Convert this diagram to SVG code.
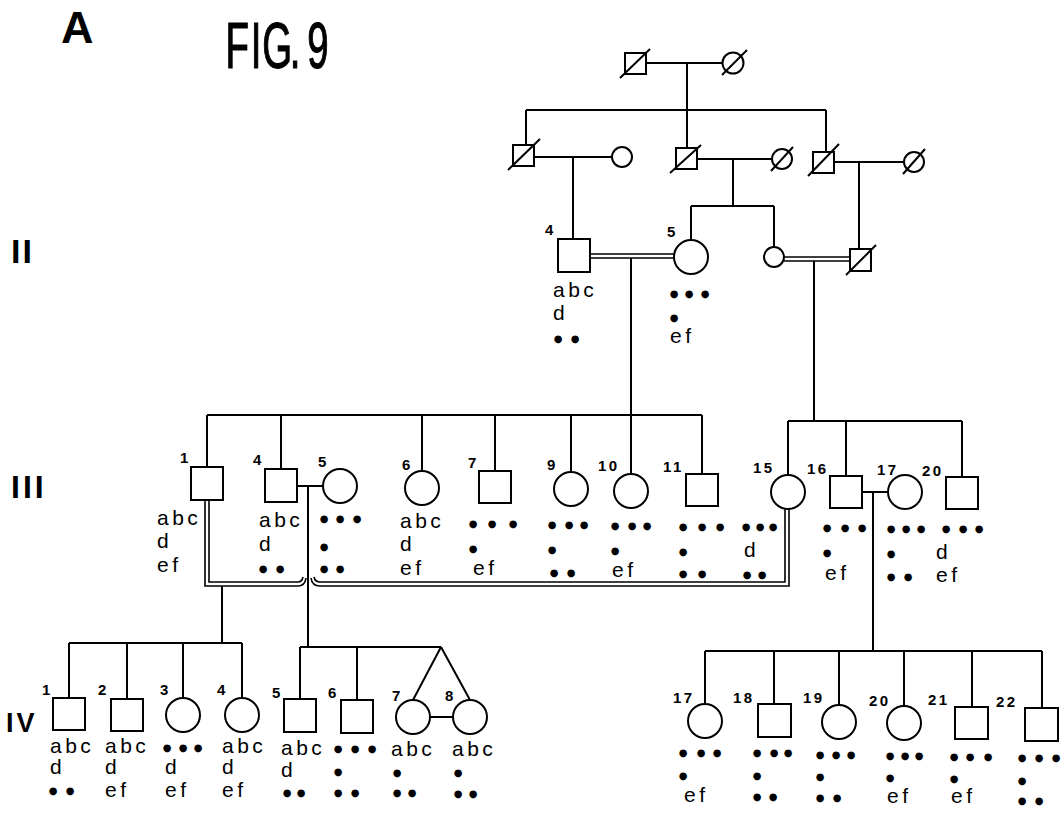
<svg xmlns="http://www.w3.org/2000/svg" width="1064" height="822" viewBox="0 0 1064 822">
<style>
.s{fill:#fff;stroke:#000;stroke-width:2}
.c{fill:none;stroke:#000;stroke-width:2}
.dl{fill:none;stroke:#000;stroke-width:1.6}
.sl{stroke:#000;stroke-width:2}
text{font-family:"Liberation Sans",Arial,Helvetica,sans-serif;fill:#000}
.n{font-size:15px;letter-spacing:2.5px;font-weight:bold}
.l{font-size:21px;letter-spacing:3.5px}
.b{font-family:"DejaVu Sans",sans-serif;font-size:10px;text-anchor:middle}
.g{font-weight:bold}
</style>
<rect width="1064" height="822" fill="#fff"/>
<text class="g" x="61" y="43" font-size="45">A</text>
<text transform="scale(0.6,1)" x="376 418 437 483 512" y="68" font-size="64" stroke="#000" stroke-width="1.2">FIG.9</text>
<text class="g" x="11" y="263" font-size="34" letter-spacing="2">II</text>
<text class="g" x="11" y="498" font-size="32" letter-spacing="3">III</text>
<text class="g" x="6" y="732" font-size="27" letter-spacing="3">IV</text>

<g id="connectors">
<path class="c" d="M646,63H722.5M687,63V110M526,110H826M526,110V145M687,110V148M826,110V152
M534,157H612M573,157V239M697,159H772M733,159V206M691,206H774M691,206V240M774,206V247M834,162H904M859,162V249
M631,258V474M814,261V421
M207,415H702M207,415V467M281,415V469M422,415V471M495,415V471M571,415V472M702,415V474
M788,421H962M788,421V475M846,421V476M962,421V477
M297,486H323M308,486V647M862,492H888M873,492V651
M222,586V643
M69,643H242M69,643V698M127,643V699M183,643V698M242,643V698
M300,647H441M300,647V699M357,647V700M441,647L413,700M441,647L470,700M430,717H453
M705,651H1042M705,651V704M774,651V704M839,651V705M904,651V706M972,651V707M1042,651V708"/>
<path class="dl" d="M590,254H674.5M590,258H674.5M784,257H850M784,261H850"/>
<path class="dl" d="M209,500V582H298Q302,582 303,577M205,500V586H298Q305,586 306,578M314,577Q315,582 320,582H785V508.7M311,578Q312,586 320,586H789V509"/>
</g>

<g id="I-1"><rect class="s" x="625" y="53" width="21" height="21"/><line class="sl" x1="620" y1="78" x2="650" y2="49"/></g>
<g id="I-2"><circle class="s" cx="733" cy="63" r="10.5"/><line class="sl" x1="722" y1="75" x2="747" y2="50"/></g>

<g id="II-1"><rect class="s" x="513" y="145" width="21" height="21"/><line class="sl" x1="508" y1="170" x2="540" y2="139"/></g>
<g id="II-1w"><circle class="s" cx="622" cy="157" r="10"/></g>
<g id="II-2"><rect class="s" x="676" y="148" width="21" height="21"/><line class="sl" x1="670" y1="173" x2="701" y2="145"/></g>
<g id="II-2w"><circle class="s" cx="782" cy="159" r="10"/><line class="sl" x1="771" y1="171" x2="793" y2="147"/></g>
<g id="II-3"><rect class="s" x="813" y="152" width="21" height="21"/><line class="sl" x1="808" y1="176" x2="839" y2="144"/></g>
<g id="II-3w"><circle class="s" cx="914" cy="162" r="10"/><line class="sl" x1="903" y1="174" x2="925" y2="149"/></g>

<g id="II-4"><rect class="s" x="558" y="239" width="32" height="33"/><text class="n" x="545" y="235">4</text><text class="l" x="553" y="297">abc</text><text class="l" x="553" y="320">d</text><text class="b" x="558 575" y="342">●●</text></g>
<g id="II-5"><circle class="s" cx="691" cy="257" r="17"/><text class="n" x="667" y="237">5</text><text class="b" x="674 689 705" y="296.5">●●●</text><text class="b" x="674" y="320.5">●</text><text class="l" x="670" y="343">ef</text></g>
<g id="II-6"><circle class="s" cx="774" cy="257" r="10"/></g>
<g id="II-7"><rect class="s" x="850" y="249" width="21" height="22"/><line class="sl" x1="846" y1="275" x2="876" y2="245"/></g>

<g id="III-1"><rect class="s" x="191" y="467" width="32" height="33"/><text class="n" x="180" y="463">1</text><text class="l" x="157" y="525">abc</text><text class="l" x="157" y="548">d</text><text class="l" x="157" y="572">ef</text></g>
<g id="III-4"><rect class="s" x="265" y="469" width="32" height="33"/><text class="n" x="253" y="465">4</text><text class="l" x="259" y="527">abc</text><text class="l" x="259" y="551">d</text><text class="b" x="263 280" y="571.5">●●</text></g>
<g id="III-5"><circle class="s" cx="340" cy="486" r="17"/><text class="n" x="318" y="467">5</text><text class="b" x="324 340 357" y="521.5">●●●</text><text class="b" x="324" y="549.5">●</text><text class="b" x="324 340" y="571.5">●●</text></g>
<g id="III-6"><circle class="s" cx="422" cy="488" r="17"/><text class="n" x="402" y="470">6</text><text class="l" x="400" y="528">abc</text><text class="l" x="400" y="551">d</text><text class="l" x="400" y="575">ef</text></g>
<g id="III-7"><rect class="s" x="479" y="471" width="32" height="32"/><text class="n" x="468" y="468">7</text><text class="b" x="473 492 513" y="526.5">●●●</text><text class="b" x="473" y="551.5">●</text><text class="l" x="473" y="575">ef</text></g>
<g id="III-9"><circle class="s" cx="571" cy="489" r="17"/><text class="n" x="547" y="470">9</text><text class="b" x="552 569 584" y="527.5">●●●</text><text class="b" x="552" y="552.5">●</text><text class="b" x="554 571" y="575.5">●●</text></g>
<g id="III-10"><circle class="s" cx="631" cy="491" r="17"/><text class="n" x="598" y="471">10</text><text class="b" x="615 632 647" y="528.5">●●●</text><text class="b" x="615" y="553.5">●</text><text class="l" x="612" y="577">ef</text></g>
<g id="III-11"><rect class="s" x="686" y="474" width="32" height="32"/><text class="n" x="663" y="472">11</text><text class="b" x="683 702 720" y="529.5">●●●</text><text class="b" x="683" y="554.5">●</text><text class="b" x="683 702" y="576.5">●●</text></g>
<g id="III-15"><circle class="s" cx="788" cy="492" r="17"/><text class="n" x="753" y="473">15</text><text class="b" x="746 760 773" y="529.5">●●●</text><text class="l" x="744" y="557">d</text><text class="b" x="747 762" y="577.5">●●</text></g>
<g id="III-16"><rect class="s" x="830" y="476" width="32" height="32"/><text class="n" x="807" y="474">16</text><text class="b" x="827 845 862" y="530.5">●●●</text><text class="b" x="827" y="555.5">●</text><text class="l" x="825" y="580">ef</text></g>
<g id="III-17"><circle class="s" cx="905" cy="492" r="17"/><text class="n" x="877" y="475">17</text><text class="b" x="891 906 921" y="531.5">●●●</text><text class="b" x="891" y="556.5">●</text><text class="b" x="891 908" y="579.5">●●</text></g>
<g id="III-20"><rect class="s" x="946" y="477" width="32" height="32"/><text class="n" x="922" y="476">20</text><text class="b" x="946 963 979" y="531.5">●●●</text><text class="l" x="936" y="559">d</text><text class="l" x="936" y="582">ef</text></g>

<g id="IV-1"><rect class="s" x="53" y="698" width="32" height="32"/><text class="n" x="42" y="695">1</text><text class="l" x="50" y="753">abc</text><text class="l" x="50" y="774">d</text><text class="b" x="53 70" y="793.5">●●</text></g>
<g id="IV-2"><rect class="s" x="111" y="699" width="32" height="32"/><text class="n" x="98" y="695">2</text><text class="l" x="105" y="753">abc</text><text class="l" x="105" y="774">d</text><text class="l" x="105" y="797">ef</text></g>
<g id="IV-3"><circle class="s" cx="183" cy="715" r="17"/><text class="n" x="160" y="695">3</text><text class="b" x="167 183 198" y="750.5">●●●</text><text class="l" x="165" y="774">d</text><text class="l" x="165" y="797">ef</text></g>
<g id="IV-4"><circle class="s" cx="242" cy="715" r="17"/><text class="n" x="217" y="695">4</text><text class="l" x="222" y="753">abc</text><text class="l" x="222" y="774">d</text><text class="l" x="222" y="797">ef</text></g>
<g id="IV-5"><rect class="s" x="284" y="699" width="32" height="33"/><text class="n" x="272" y="698">5</text><text class="l" x="281" y="755">abc</text><text class="l" x="281" y="777">d</text><text class="b" x="287 301" y="795.5">●●</text></g>
<g id="IV-6"><rect class="s" x="341" y="700" width="32" height="33"/><text class="n" x="328" y="698">6</text><text class="b" x="338 355 372" y="751.5">●●●</text><text class="b" x="338" y="774.5">●</text><text class="b" x="338 355" y="795.5">●●</text></g>
<g id="IV-7"><circle class="s" cx="413" cy="717" r="17"/><text class="n" x="392" y="701">7</text><text class="l" x="391" y="756">abc</text><text class="b" x="397" y="775.5">●</text><text class="b" x="397 412" y="795.5">●●</text></g>
<g id="IV-8"><circle class="s" cx="470" cy="717" r="17"/><text class="n" x="445" y="701">8</text><text class="l" x="452" y="756">abc</text><text class="b" x="458" y="775.5">●</text><text class="b" x="458 473" y="796.5">●●</text></g>

<g id="IV-17"><circle class="s" cx="705" cy="721" r="17"/><text class="n" x="673" y="703">17</text><text class="b" x="683 701 717" y="755.5">●●●</text><text class="b" x="683" y="778.5">●</text><text class="l" x="684" y="802">ef</text></g>
<g id="IV-18"><rect class="s" x="758" y="704" width="33" height="33"/><text class="n" x="733" y="703">18</text><text class="b" x="757 774 788" y="755.5">●●●</text><text class="b" x="757" y="778.5">●</text><text class="b" x="757 773" y="799.5">●●</text></g>
<g id="IV-19"><circle class="s" cx="839" cy="722" r="17"/><text class="n" x="803" y="703">19</text><text class="b" x="820 836 851" y="757.5">●●●</text><text class="b" x="820" y="779.5">●</text><text class="b" x="820 837" y="800.5">●●</text></g>
<g id="IV-20"><circle class="s" cx="904" cy="723" r="17"/><text class="n" x="869" y="706">20</text><text class="b" x="890 905 919" y="758.5">●●●</text><text class="b" x="890" y="780.5">●</text><text class="l" x="887" y="803">ef</text></g>
<g id="IV-21"><rect class="s" x="955" y="707" width="33" height="32"/><text class="n" x="928" y="705">21</text><text class="b" x="954 970 988" y="759.5">●●●</text><text class="b" x="954" y="781.5">●</text><text class="l" x="951" y="803">ef</text></g>
<g id="IV-22"><rect class="s" x="1025" y="708" width="33" height="33"/><text class="n" x="996" y="707">22</text><text class="b" x="1022 1039 1056" y="760.5">●●●</text><text class="b" x="1022" y="783.5">●</text><text class="b" x="1022 1039" y="803.5">●●</text></g>
</svg>
